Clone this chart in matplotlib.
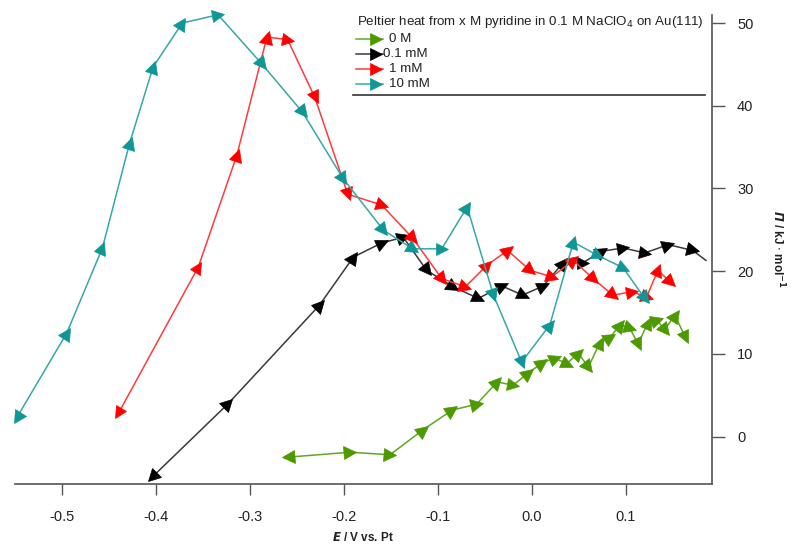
import numpy as np
import matplotlib.pyplot as plt
from matplotlib.markers import MarkerStyle
from matplotlib.lines import Line2D

plt.rcParams['font.family'] = ['Liberation Sans', 'DejaVu Sans']

# potentials (V vs. Pt) and Peltier heat (kJ/mol)
E_0M = [-0.260, -0.194, -0.151, -0.116, -0.085, -0.059, -0.037, -0.020, -0.004, 0.011,
        0.024, 0.037, 0.049, 0.060, 0.072, 0.083, 0.094, 0.104, 0.113, 0.123,
        0.133, 0.141, 0.152, 0.163]
P_0M = [-2.5, -1.9, -2.2, 0.8, 3.2, 3.9, 6.6, 6.2, 7.7, 8.9,
        9.5, 8.8, 10.1, 8.4, 11.3, 12.0, 13.5, 13.1, 11.2, 13.7,
        14.1, 12.9, 14.7, 12.0]

E_01mM = [-0.404, -0.323, -0.226, -0.190, -0.160, -0.137, -0.112, -0.084, -0.057, -0.032,
          -0.010, 0.012, 0.033, 0.054, 0.074, 0.097, 0.120, 0.145, 0.171, 0.185]
P_01mM = [-4.9, 4.0, 15.9, 21.7, 23.4, 24.1, 20.1, 18.1, 16.7, 18.2,
          17.1, 18.2, 21.0, 21.0, 22.4, 22.8, 22.2, 23.2, 22.5, 21.3]

E_1mM = [-0.440, -0.355, -0.314, -0.282, -0.260, -0.231, -0.196, -0.160, -0.127, -0.096,
         -0.071, -0.048, -0.026, -0.002, 0.021, 0.044, 0.065, 0.086, 0.106, 0.122,
         0.134, 0.147]
P_1mM = [2.8, 20.5, 34.0, 48.3, 48.0, 41.0, 29.3, 28.0, 24.0, 19.1,
         18.1, 20.7, 22.5, 20.1, 19.3, 21.3, 19.1, 17.1, 17.5, 16.9,
         20.1, 18.7]

E_10mM = [-0.548, -0.495, -0.457, -0.428, -0.403, -0.372, -0.334, -0.287, -0.244, -0.201,
          -0.158, -0.127, -0.096, -0.069, -0.041, -0.011, 0.019, 0.044, 0.070, 0.097,
          0.120]
P_10mM = [2.3, 12.5, 22.8, 35.5, 44.7, 50.0, 51.0, 45.0, 39.2, 31.2,
          24.95, 22.7, 22.7, 27.75, 17.1, 9.0, 13.5, 23.5, 21.9, 20.4,
          16.7]

labels = ['0 M', '0.1 mM', '1 mM', '10 mM']
marker_colors = ['#4c9900', '#000000', '#ff0000', '#0f9696']
line_colors = ['#5ea820', '#3a3a3a', '#ff3a3a', '#35a8a8']

W, H = 792, 548
fig = plt.figure(figsize=(W / 100, H / 100), dpi=100)
ax = fig.add_axes([15 / W, 1 - 484 / H, (712 - 15) / W, (484 - 15) / H])
ax.set_xlim(-0.550, 0.1915)
ax.set_ylim(-5.74, 50.97)

series = [(E_0M, P_0M), (E_01mM, P_01mM), (E_1mM, P_1mM), (E_10mM, P_10mM)]

for i, (xs, ys) in enumerate(series):
    ax.plot(xs, ys, color=line_colors[i], lw=1.1, zorder=2 + i)
    # arrow markers oriented along the trace (screen direction)
    pts = ax.transData.transform(np.column_stack([xs, ys]))
    n = len(xs)
    if i == 1:
        n -= 1  # trailing point of the 0.1 mM trace has no marker
    for k in range(n):
        if k == 0:
            d = pts[0] - pts[1]
        else:
            d = pts[k] - pts[k - 1]
        ang = np.degrees(np.arctan2(d[1], d[0]))
        ax.plot(xs[k], ys[k], ls='none', marker=MarkerStyle('>').rotated(deg=ang),
                ms=9, mfc=marker_colors[i], mec=marker_colors[i], mew=0.5,
                clip_on=False, zorder=2 + i)

# axes styling: only bottom and right spines
for s in ['top', 'left']:
    ax.spines[s].set_visible(False)
for s in ['bottom', 'right']:
    ax.spines[s].set_color('#555555')
    ax.spines[s].set_linewidth(1.2)
ax.yaxis.tick_right()
ax.yaxis.set_label_position('right')
ax.set_xticks([-0.5, -0.4, -0.3, -0.2, -0.1, 0.0, 0.1])
ax.set_xticklabels(['-0.5', '-0.4', '-0.3', '-0.2', '-0.1', '0.0', '0.1'])
ax.set_yticks([0, 10, 20, 30, 40, 50])
ax.tick_params(axis='x', direction='out', length=8, width=1, color='#555555',
               pad=11, labelsize=10.5, labelcolor='#222222')
ax.tick_params(axis='y', direction='out', length=9, width=1, color='#555555',
               pad=9, labelsize=10.5, labelcolor='#222222')

ax.set_xlabel(r'$\mathbfit{E}$ / V vs. Pt', fontsize=8.5, fontweight='bold',
              color='#222222', labelpad=5)
ax.set_ylabel(r'$\mathbfit{\Pi}$ / kJ $\cdot$ mol$^{\mathbf{-1}}$', fontsize=8.5,
              fontweight='bold', color='#222222', rotation=270, labelpad=24)

# legend box drawn by hand
def fx(px):
    return px / W

def fy(py):
    return 1 - py / H

fig.text(fx(357), fy(22), r'Peltier heat from x M pyridine in 0.1 M NaClO$_4$ on Au(111)',
         fontsize=9.6, va='center', ha='left', color='#222222')
entry_y = [39, 54, 69, 84]
text_x = [389, 383, 389, 389]
for i in range(4):
    fig.add_artist(Line2D([fx(356), fx(383)], [fy(entry_y[i])] * 2,
                          color=line_colors[i], lw=1.1))
    fig.add_artist(Line2D([fx(376)], [fy(entry_y[i])], marker='>', ms=9,
                          mfc=marker_colors[i], mec=marker_colors[i], mew=0.5))
    fig.text(fx(text_x[i]), fy(entry_y[i]), labels[i], fontsize=9.6, va='center',
             ha='left', color='#222222')
fig.add_artist(Line2D([fx(353), fx(705)], [fy(95)] * 2, color='#333333', lw=1.2))

fig.savefig('out.png', dpi=100)
